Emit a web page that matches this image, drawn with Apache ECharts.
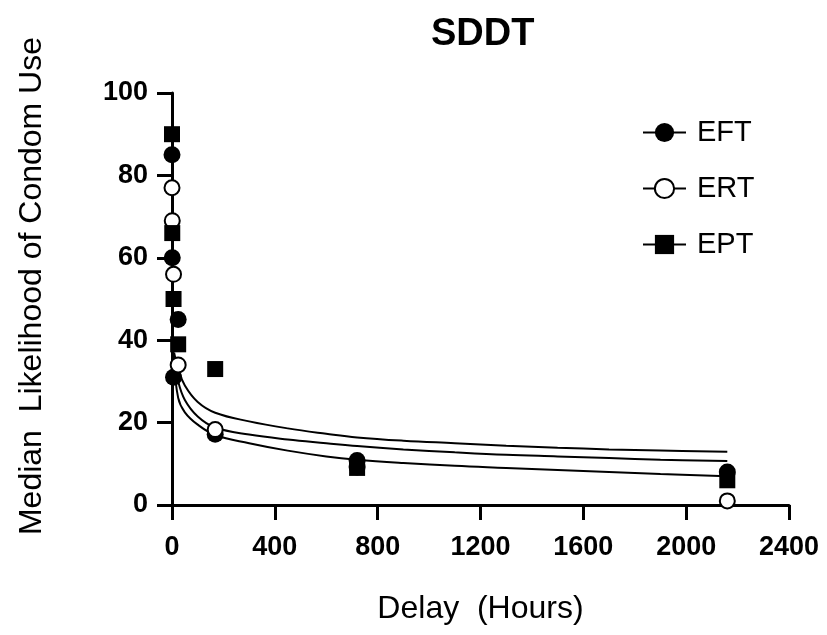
<!DOCTYPE html>
<html>
<head>
<meta charset="utf-8">
<script src="https://cdn.jsdelivr.net/npm/echarts@6/dist/echarts.min.js"></script>
<style>
  html, body { margin: 0; padding: 0; background: #fff; }
  #main { width: 827px; height: 635px; }
</style>
</head>
<body>
<div id="main"></div>
<script>
// delays in hours
var delays = [0, 1, 6, 24, 168, 720, 2160];
var eftVals = [85, 60, 31, 45, 17.2, 10.8, 8];
var ertVals = [77, 69, 56, 34, 18.3, 9.2, 1];
var eptVals = [90, 66, 50, 39, 33, 9, 6];

// fitted curves
var fitDelays = [8, 24, 50, 100, 168, 300, 450, 600, 720, 900, 1100, 1300, 1500, 1700, 1900, 2160];
var fitTop = [37, 33, 29, 25, 22.4, 20.3, 18.6, 17.3, 16.4, 15.6, 15.0, 14.4, 13.9, 13.5, 13.2, 12.9];
var fitMid = [36, 30, 25.5, 21.5, 18.8, 17.1, 15.9, 15.0, 14.3, 13.5, 12.8, 12.2, 11.8, 11.4, 11.0, 10.7];
var fitBot = [35, 26, 22.5, 19.5, 17, 15, 13.2, 11.8, 11.0, 10.2, 9.5, 9.0, 8.5, 8.0, 7.5, 7.0];

var xTicks = [0, 400, 800, 1200, 1600, 2000, 2400];
var yTicks = [0, 20, 40, 60, 80, 100];

var FONT = '"Liberation Sans", Arial, sans-serif';

function pairs(xs, ys) {
  var out = [];
  for (var i = 0; i < xs.length; i++) out.push([xs[i], ys[i]]);
  return out;
}

function pointSeries(name, vals, symbol, size) {
  return {
    name: name,
    type: 'line',
    data: pairs(delays, vals),
    symbol: symbol,
    symbolSize: size,
    showSymbol: true,
    z: 5,
    lineStyle: { width: 0, color: '#000' },
    itemStyle: { color: '#000', borderColor: '#000', borderWidth: symbol == 'emptyCircle' ? 3 : 0 },
    emphasis: { disabled: true },
    animation: false
  };
}

function fitSeries(vals) {
  return {
    type: 'line',
    data: pairs(fitDelays, vals),
    smooth: 0.4,
    showSymbol: false,
    silent: true,
    z: 2,
    lineStyle: { width: 2, color: '#000' },
    animation: false
  };
}

var myChart = echarts.init(document.getElementById('main'));

var option = {
  backgroundColor: '#fff',
  animation: false,
  title: {
    text: 'SDDT',
    left: 426,
    top: 11,
    textStyle: { fontFamily: FONT, fontWeight: 'bold', fontSize: 38, color: '#000' }
  },
  legend: {
    orient: 'vertical',
    left: 637,
    top: 113,
    itemWidth: 43,
    itemHeight: 24,
    itemGap: 27,
    data: ['EFT', 'ERT', 'EPT'],
    lineStyle: { width: 2, color: '#000', opacity: 1 },
    textStyle: { fontFamily: FONT, fontSize: 29, color: '#000', lineHeight: 29, padding: [0, 0, 0, 6] }
  },
  grid: { left: 172, right: 38, top: 93, bottom: 130 },
  xAxis: {
    type: 'value',
    min: xTicks[0],
    max: xTicks[xTicks.length - 1],
    interval: 400,
    name: 'Delay  (Hours)',
    nameLocation: 'middle',
    nameGap: 88,
    nameTextStyle: { fontFamily: FONT, fontSize: 32, color: '#000' },
    axisLine: { lineStyle: { color: '#000', width: 3 } },
    axisTick: { length: 15, lineStyle: { color: '#000', width: 3 } },
    axisLabel: {
      margin: 29, fontFamily: FONT, fontWeight: 'bold', fontSize: 27, color: '#000',
      formatter: function (v) { return String(v); }
    },
    splitLine: { show: false }
  },
  yAxis: {
    type: 'value',
    min: yTicks[0],
    max: yTicks[yTicks.length - 1],
    interval: 20,
    name: 'Median  Likelihood of Condom Use',
    nameLocation: 'middle',
    nameGap: 124,
    nameTextStyle: { fontFamily: FONT, fontSize: 32, color: '#000', padding: [0, 0, 0, 26] },
    axisLine: { lineStyle: { color: '#000', width: 3 } },
    axisTick: { length: 15, lineStyle: { color: '#000', width: 3 } },
    axisLabel: { margin: 24, fontFamily: FONT, fontWeight: 'bold', fontSize: 27, color: '#000' },
    splitLine: { show: false }
  },
  series: [
    fitSeries(fitTop),
    fitSeries(fitMid),
    fitSeries(fitBot),
    pointSeries('EFT', eftVals, 'circle', 17),
    pointSeries('ERT', ertVals, 'emptyCircle', 15),
    pointSeries('EPT', eptVals, 'rect', 16)
  ]
};

myChart.setOption(option);
</script>
</body>
</html>
